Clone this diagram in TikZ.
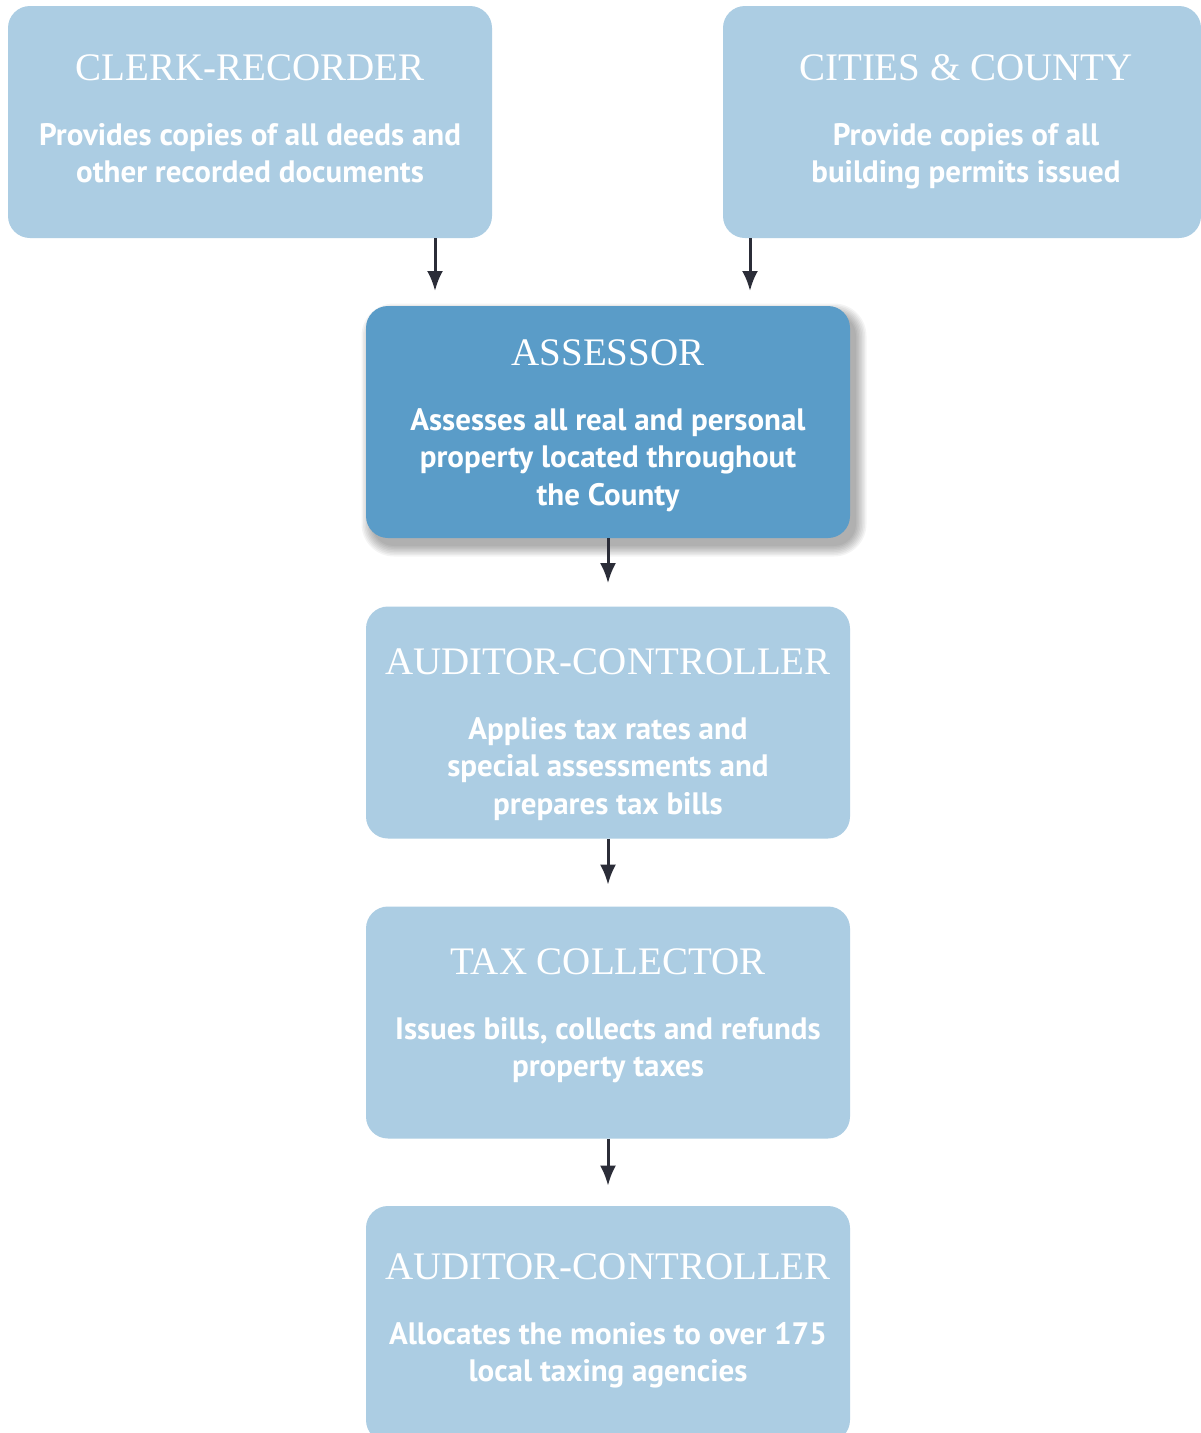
\documentclass[tikz,border=0pt]{standalone}
\usepackage{fontspec}
\setmainfont{PT Sans}
\newfontfamily\titlefont{Liberation Serif}
\usetikzlibrary{arrows.meta}
\definecolor{lightbox}{HTML}{ACCDE3}
\definecolor{darkbox}{HTML}{5A9CC8}
\definecolor{arrowc}{HTML}{2B2D38}
\tikzset{
  box/.style={rounded corners=22pt, minimum width=484pt, minimum height=232pt, inner sep=0pt, fill=lightbox, draw=none},
  darkfill/.style={fill=darkbox},
  ttl/.style={text=white, font=\titlefont\fontsize{39}{44}\selectfont, inner sep=0pt, anchor=center},
  body/.style={text=white, font=\bfseries\fontsize{31}{37.5}\selectfont, align=center, inner sep=0pt, anchor=north},
  flow/.style={draw=arrowc, line width=3pt, -{Latex[length=20pt,width=16pt]}},
  shadowlayer/.style={fill=black, fill opacity=0.045, draw=none}
}
\begin{document}
\begin{tikzpicture}[x=1pt,y=-1pt]
\useasboundingbox[fill=white] (0,0) rectangle (1201,1433);
% soft shadow of the assessor box
\foreach \k in {0,...,7} {
  \fill[shadowlayer, rounded corners={22pt+\k*1.5pt}]
    ({372-\k*1.5},{314-\k*1.5}) rectangle ({856+\k*1.5},{546+\k*1.5});
}
% boxes
\node[box] (clerk) at (250,122) {};
\node[box, minimum width=478pt] (cities) at (962,122) {};
\node[box, darkfill] (assessor) at (608,422) {};
\node[box] (aud1) at (608,722.5) {};
\node[box] (tax) at (608,1022.5) {};
\node[box, minimum height=236pt] (aud2) at (608,1324) {};
% titles
\node[ttl] (clerkT) at (250,68) {CLERK-RECORDER};
\node[ttl] (citiesT) at (966,68) {CITIES \& COUNTY};
\node[ttl] (assessorT) at (608,353) {ASSESSOR};
\node[ttl] (aud1T) at (608,662) {AUDITOR-CONTROLLER};
\node[ttl] (taxT) at (608,962) {TAX COLLECTOR};
\node[ttl] (aud2T) at (608,1267) {AUDITOR-CONTROLLER};
% bodies
\node[body] (clerkB) at (250,123) {Provides copies of all deeds and\\other recorded documents};
\node[body] (citiesB) at (966,123) {Provide copies of all\\building permits issued};
\node[body] (assessorB) at (608,408) {Assesses all real and personal\\property located throughout\\the County};
\node[body] (aud1B) at (608,717) {Applies tax rates and\\special assessments and\\prepares tax bills};
\node[body] (taxB) at (608,1017) {Issues bills, collects and refunds\\property taxes};
\node[body] (aud2B) at (608,1322) {Allocates the monies to over 175\\local taxing agencies};
% connectors
\coordinate (a1) at (435,238);
\coordinate (a2) at (750,238);
\draw[flow] (a1) -- (a1 |- 0,291);
\draw[flow] (a2) -- (a2 |- 0,291);
\draw[flow] (assessor.south) -- ++(0,45);
\draw[flow] (aud1.south) -- ++(0,46);
\draw[flow] (tax.south) -- ++(0,47);
\end{tikzpicture}
\end{document}
